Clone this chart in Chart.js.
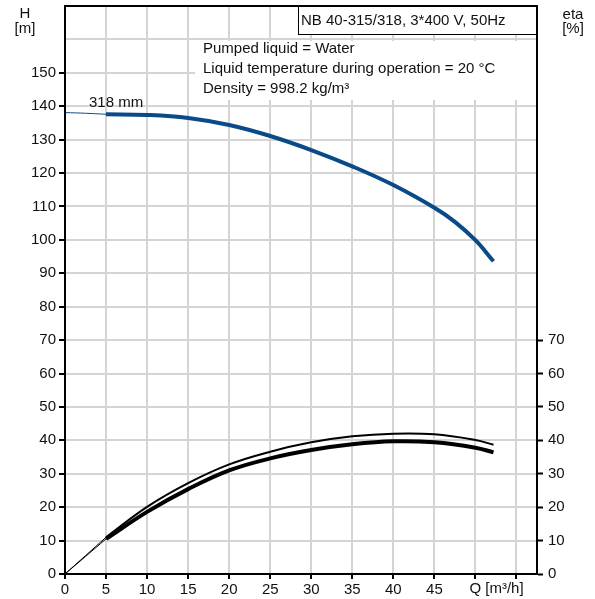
<!DOCTYPE html>
<html>
<head>
<meta charset="utf-8">
<script src="https://cdn.jsdelivr.net/npm/chart.js@4"></script>
<style>
  html, body { margin: 0; padding: 0; background: #fff; }
  #wrap { width: 595px; height: 599px; }
</style>
</head>
<body>
<div id="wrap"><canvas id="chart" width="595" height="599"></canvas></div>
<script>
'use strict';

/*** DATA ***/

// start of the curves (thin part, Q 0..5)
var flowStart = [0, 2.5, 5];
var headStart = [138.1, 137.9, 137.6];
var etaUpperStart = [0, 5.5, 11.0];
var etaLowerStart = [0, 5.25, 10.5];

// operating range (thick part)
var headFlow = [5, 10, 15, 20, 25, 30, 35, 40, 45, 47.5, 50, 52.2];
var head = [137.6, 137.4, 136.5, 134.4, 131.1, 126.9, 122.0, 116.4, 109.6, 105.4, 99.9, 93.6];

var flow = [5, 10, 15, 20, 25, 30, 35, 40, 45, 50, 52.2];
var etaUpper = [11.0, 20.1, 27.2, 32.8, 36.6, 39.4, 41.2, 42.0, 41.8, 40.1, 38.7];
var etaLower = [10.5, 18.6, 25.4, 31.0, 34.6, 37.1, 38.8, 39.7, 39.4, 37.8, 36.4];

var headTicksMax = 150;
var etaTicksMax = 70;
var hiddenFlowLabels = [50, 55];

var titleText = 'NB 40-315/318, 3*400 V, 50Hz';
var infoLines = ['Pumped liquid = Water', 'Liquid temperature during operation = 20 °C', 'Density = 998.2 kg/m³'];

/*** HELPERS ***/

var FONT = '"Liberation Sans", Arial, sans-serif';
var BLUE = '#0b4a88';
var GRID = '#d4d4d4';
var INK = '#111';

function toPoints(xs, ys) {
  var pts = [];
  for (var i = 0; i < xs.length; i++) {
    pts.push({ x: xs[i], y: ys[i] });
  }
  return pts;
}

function curve(xs, ys, color, width, axis) {
  return {
    data: toPoints(xs, ys),
    borderColor: color,
    borderWidth: width,
    pointRadius: 0,
    fill: false,
    tension: 0.4,
    borderCapStyle: 'butt',
    yAxisID: axis
  };
}

// no extra room for half tick labels, the plot box is fixed
function noPadding(s) {
  s.paddingTop = 0;
  s.paddingBottom = 0;
  s.paddingLeft = 0;
  s.paddingRight = 0;
}

// boxes, frame and loose labels
var extras = {
  id: 'extras',
  beforeDatasetsDraw: function(chart) {
    var ctx = chart.ctx;
    var a = chart.chartArea;
    ctx.save();
    // info box
    ctx.fillStyle = '#fff';
    ctx.fillRect(a.left + 130, a.top + 35, a.right - a.left - 130, 59);
    // title box
    ctx.fillRect(a.left + 233, a.top + 1, a.right - a.left - 233, 28);
    ctx.strokeStyle = '#000';
    ctx.lineWidth = 1;
    ctx.strokeRect(a.left + 233.5, a.top + 0.5, a.right - a.left - 233, 28);
    ctx.fillStyle = INK;
    ctx.font = '15px ' + FONT;
    ctx.textBaseline = 'alphabetic';
    ctx.textAlign = 'left';
    ctx.fillText(titleText, a.left + 236, a.top + 19);
    for (var i = 0; i < infoLines.length; i++) {
      ctx.fillText(infoLines[i], a.left + 138, a.top + 47 + i * 20);
    }
    ctx.fillText('318 mm', a.left + 24, a.top + 101);
    ctx.restore();
  },
  afterDraw: function(chart) {
    var ctx = chart.ctx;
    var a = chart.chartArea;
    ctx.save();
    // frame
    ctx.strokeStyle = '#000';
    ctx.lineWidth = 2;
    ctx.strokeRect(a.left, a.top, a.right - a.left, a.bottom - a.top);
    ctx.fillStyle = INK;
    ctx.font = '15px ' + FONT;
    ctx.textAlign = 'center';
    ctx.fillText('H', 25, 18);
    ctx.fillText('[m]', 25, 33);
    ctx.fillText('eta', 573, 19);
    ctx.fillText('[%]', 573, 33);
    ctx.textAlign = 'left';
    ctx.fillText('Q [m³/h]', chart.scales.x.getPixelForValue(50) - 6, 593);
    ctx.restore();
  }
};

/*** CHART ***/

var ctx = document.getElementById('chart').getContext('2d');
var chart = new Chart(ctx, {
  type: 'line',
  data: {
    datasets: [
      curve(flowStart, headStart, BLUE, 1, 'y'),
      curve(headFlow, head, BLUE, 4, 'y'),
      curve(flowStart, etaUpperStart, '#000', 1, 'y2'),
      curve(flow, etaUpper, '#000', 2, 'y2'),
      curve(flowStart, etaLowerStart, '#000', 1, 'y2'),
      curve(flow, etaLower, '#000', 4, 'y2')
    ]
  },
  options: {
    responsive: false,
    animation: false,
    layout: { padding: { top: 6, left: 0, right: 0, bottom: 0 } },
    plugins: {
      legend: { display: false },
      tooltip: { enabled: false }
    },
    scales: {
      x: {
        type: 'linear',
        min: 0,
        max: 57.5,
        afterFit: function(s) { s.height = 25; noPadding(s); },
        border: { color: '#000', width: 2 },
        grid: { color: GRID, lineWidth: 2, tickColor: '#000', tickLength: 5, tickWidth: 2 },
        ticks: {
          stepSize: 5,
          includeBounds: false,
          padding: 2,
          maxRotation: 0,
          autoSkip: false,
          color: INK,
          font: { family: FONT, size: 15 },
          callback: function(v) { return hiddenFlowLabels.indexOf(v) >= 0 ? '' : v; }
        }
      },
      y: {
        position: 'left',
        min: 0,
        max: 170,
        afterFit: function(s) { s.width = 65; noPadding(s); },
        border: { color: '#000', width: 2 },
        grid: {
          color: GRID,
          lineWidth: 2,
          tickLength: 6,
          tickWidth: 2,
          tickColor: function(c) { return c.tick && c.tick.value <= headTicksMax ? '#000' : 'rgba(0,0,0,0)'; }
        },
        ticks: {
          stepSize: 10,
          padding: 3,
          autoSkip: false,
          color: INK,
          font: { family: FONT, size: 15 },
          callback: function(v) { return v <= headTicksMax ? v : ''; }
        }
      },
      y2: {
        position: 'right',
        min: 0,
        max: 170,
        afterFit: function(s) { s.width = 58; noPadding(s); },
        border: { color: '#000', width: 2 },
        grid: {
          drawOnChartArea: false,
          tickLength: 6,
          tickWidth: 2,
          tickColor: function(c) { return c.tick && c.tick.value <= etaTicksMax ? '#000' : 'rgba(0,0,0,0)'; }
        },
        ticks: {
          stepSize: 10,
          padding: 5,
          autoSkip: false,
          color: INK,
          font: { family: FONT, size: 15 },
          callback: function(v) { return v <= etaTicksMax ? v : ''; }
        }
      }
    }
  },
  plugins: [extras]
});
</script>
</body>
</html>
